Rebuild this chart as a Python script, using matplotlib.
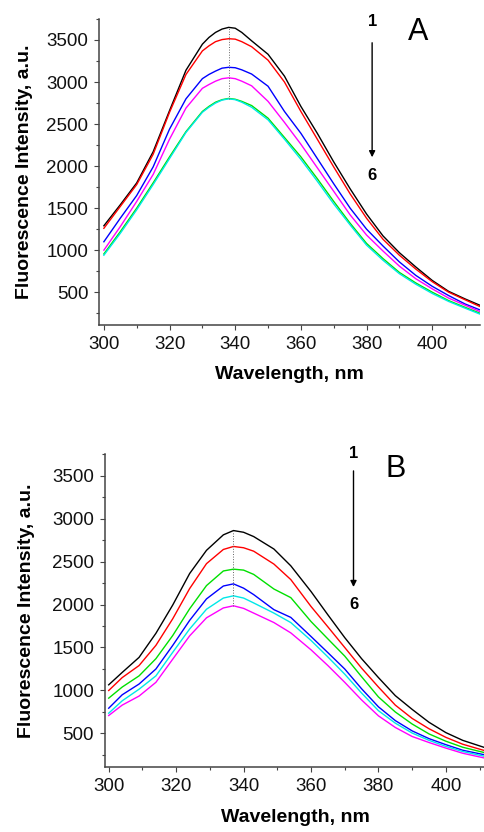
import matplotlib
matplotlib.use("Agg")
import matplotlib.pyplot as plt
from matplotlib.ticker import MultipleLocator

plt.rcParams['font.family'] = ['Liberation Sans', 'DejaVu Sans']

# panel A spectra
wl_a = [300, 305, 310, 315, 320, 325, 330, 332, 334, 336, 338, 340, 342, 345, 350, 355,
        360, 365, 370, 375, 380, 385, 390, 395, 400, 405, 410, 414.5]
a_black = [1290, 1540, 1800, 2170, 2660, 3140, 3450, 3530, 3590, 3630, 3650, 3640, 3590, 3490, 3330, 3070,
           2710, 2390, 2050, 1730, 1430, 1170, 970, 800, 640, 510, 420, 345]
a_red = [1260, 1520, 1780, 2140, 2640, 3090, 3370, 3430, 3480, 3505, 3515, 3510, 3480, 3420, 3260, 3000,
         2650, 2320, 1990, 1670, 1380, 1130, 940, 775, 625, 500, 410, 330]
a_blue = [1100, 1380, 1650, 1990, 2440, 2800, 3040, 3090, 3130, 3165, 3175, 3170, 3145, 3095, 2950, 2650,
          2390, 2090, 1790, 1500, 1250, 1050, 860, 700, 570, 460, 360, 290]
a_magenta = [1000, 1280, 1580, 1900, 2320, 2690, 2925, 2970, 3010, 3040, 3050, 3040, 3010, 2955, 2770, 2520,
             2260, 1980, 1700, 1420, 1180, 990, 810, 660, 540, 430, 345, 270]
a_green = [955, 1220, 1500, 1800, 2110, 2410, 2650, 2710, 2760, 2790, 2805, 2795, 2770, 2720, 2570, 2340,
           2110, 1850, 1580, 1320, 1080, 900, 735, 610, 500, 400, 320, 250]
a_cyan = [940, 1200, 1480, 1780, 2090, 2400, 2640, 2700, 2750, 2785, 2800, 2790, 2760, 2700, 2550, 2320,
          2080, 1820, 1550, 1300, 1060, 880, 720, 595, 485, 390, 310, 240]

# panel B spectra
wl_b = [300, 304, 309, 314, 319, 324, 329, 334, 337, 340, 343, 349, 354, 360,
        365, 370, 375, 380, 385, 390, 395, 400, 405, 412]
b_black = [1066, 1210, 1385, 1665, 1995, 2360, 2630, 2810, 2860, 2840, 2790, 2645, 2450, 2151,
           1880, 1615, 1370, 1150, 940, 780, 630, 510, 420, 330]
b_red = [1000, 1150, 1290, 1525, 1835, 2185, 2475, 2640, 2675, 2660, 2620, 2470, 2290, 1977,
         1740, 1500, 1260, 1040, 830, 675, 555, 455, 375, 295]
b_green = [911, 1040, 1170, 1370, 1640, 1950, 2220, 2390, 2411, 2400, 2350, 2180, 2080, 1802,
           1600, 1400, 1160, 925, 750, 610, 495, 410, 340, 272]
b_blue = [794, 950, 1075, 1250, 1525, 1815, 2065, 2215, 2240, 2190, 2115, 1940, 1850, 1628,
          1440, 1250, 1020, 810, 650, 530, 440, 370, 305, 248]
b_cyan = [736, 880, 1015, 1170, 1445, 1715, 1945, 2075, 2101, 2075, 2018, 1900, 1790, 1582,
          1390, 1190, 970, 765, 620, 505, 420, 350, 290, 230]
b_magenta = [709, 830, 935, 1095, 1365, 1635, 1845, 1960, 1985, 1955, 1900, 1790, 1670, 1473,
             1290, 1095, 890, 705, 570, 465, 395, 330, 270, 210]

fig = plt.figure(figsize=(4.85, 8.32), dpi=100)
ax1 = fig.add_axes([0.2047, 0.6094, 0.7853, 0.3678])
ax2 = fig.add_axes([0.2165, 0.0781, 0.7835, 0.3762])

lw = 1.0
ax1.plot(wl_a, a_black, color='black', lw=lw)
ax1.plot(wl_a, a_red, color='#ff0000', lw=lw)
ax1.plot(wl_a, a_blue, color='#0000ff', lw=lw)
ax1.plot(wl_a, a_magenta, color='#ff00ff', lw=lw)
ax1.plot(wl_a, a_green, color='#00e000', lw=lw)
ax1.plot(wl_a, a_cyan, color='#00e8e8', lw=lw)
ax1.vlines(338, max(a_cyan), max(a_black), colors='#666666', linestyles=':', lw=0.7)

ax2.plot(wl_b, b_black, color='black', lw=lw)
ax2.plot(wl_b, b_red, color='#ff0000', lw=lw)
ax2.plot(wl_b, b_green, color='#00e000', lw=lw)
ax2.plot(wl_b, b_blue, color='#0000ff', lw=lw)
ax2.plot(wl_b, b_cyan, color='#00e8e8', lw=lw)
ax2.plot(wl_b, b_magenta, color='#ff00ff', lw=lw)
ax2.vlines(337, max(b_magenta), max(b_black), colors='#666666', linestyles=':', lw=0.7)

ax1.set_xlim(298.6, 414.6)
ax2.set_xlim(298.9, 411.6)

for ax in (ax1, ax2):
    ax.set_ylim(110, 3750)
    ax.xaxis.set_major_locator(MultipleLocator(20))
    ax.xaxis.set_minor_locator(MultipleLocator(10))
    ax.yaxis.set_major_locator(MultipleLocator(500))
    ax.yaxis.set_minor_locator(MultipleLocator(250))
    ax.set_yticks([500, 1000, 1500, 2000, 2500, 3000, 3500])
    ax.spines['top'].set_visible(False)
    ax.spines['right'].set_visible(False)
    for s in ('left', 'bottom'):
        ax.spines[s].set_color('#444444')
        ax.spines[s].set_linewidth(1.1)
    ax.tick_params(which='major', direction='out', length=3.3, width=0.8,
                   color='#444444', labelsize=13.5, pad=4.5, labelcolor='#111111')
    ax.tick_params(which='minor', direction='out', length=2.0, width=0.8, color='#444444')
    ax.set_xlabel('Wavelength, nm', fontsize=14, fontweight='bold')
    ax.set_ylabel('Fluorescence Intensity, a.u.', fontsize=14, fontweight='bold')
    ax.xaxis.set_label_coords(0.5, -0.135)

ax1.yaxis.set_label_coords(-0.175, 0.5)
ax2.yaxis.set_label_coords(-0.185, 0.5)

# arrows and labels
ax1.text(381.7, 3714, '1', fontsize=12, fontweight='bold', ha='center', va='center')
ax1.annotate('', xy=(381.7, 2072), xytext=(381.7, 3500),
             arrowprops=dict(arrowstyle='-|>', color='black', lw=1.0, mutation_scale=9))
ax1.text(381.7, 1894, '6', fontsize=12, fontweight='bold', ha='center', va='center')
ax1.text(395.7, 3595, 'A', fontsize=22, ha='center', va='center')

ax2.text(372.6, 3760, '1', fontsize=12, fontweight='bold', ha='center', va='center')
ax2.annotate('', xy=(372.6, 2171), xytext=(372.6, 3586),
             arrowprops=dict(arrowstyle='-|>', color='black', lw=1.0, mutation_scale=9))
ax2.text(372.6, 1996, '6', fontsize=12, fontweight='bold', ha='center', va='center')
ax2.text(385, 3574, 'B', fontsize=22, ha='center', va='center')

plt.savefig('out.png', dpi=100)
